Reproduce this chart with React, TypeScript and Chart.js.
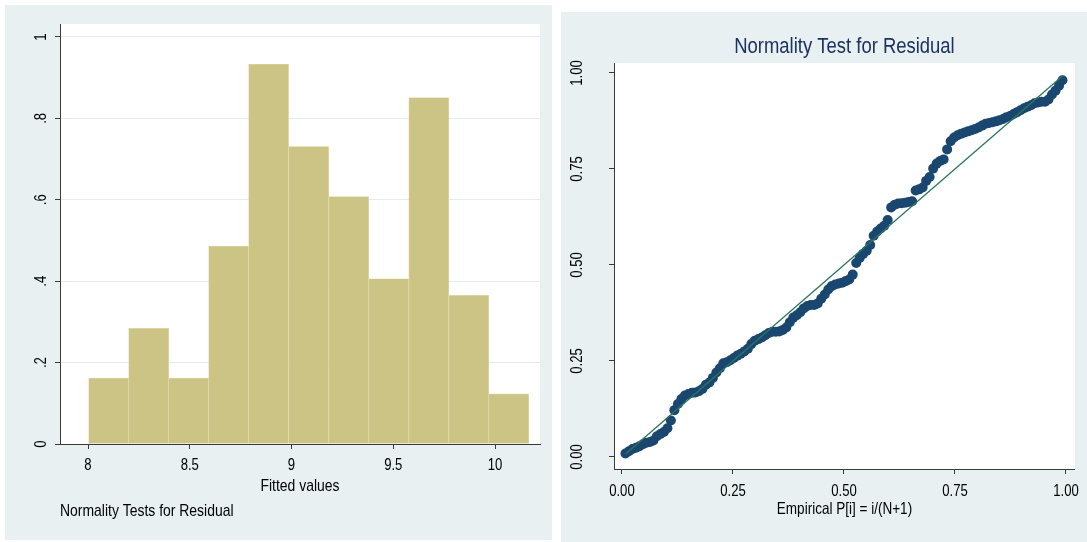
import React, { useEffect, useRef } from "react";
import { Chart, registerables } from "chart.js";

Chart.register(...registerables);

const FONT = "'Liberation Sans', Arial, sans-serif";
Chart.defaults.font.family = FONT;
const NARROW = 0.82; // Arial Narrow is ~82% of Arial width

// ---------- Histogram (left) ----------
const binEdges = [8.003, 8.2, 8.396, 8.593, 8.789, 8.986, 9.183, 9.379, 9.576, 9.773, 9.969, 10.166];
const density = [0.162, 0.284, 0.162, 0.486, 0.933, 0.731, 0.608, 0.406, 0.851, 0.365, 0.123];
const histXTicks = [8, 8.5, 9, 9.5, 10];
const histXTickLabels = ["8", "8.5", "9", "9.5", "10"];
const histYTicks = [0, 0.2, 0.4, 0.6, 0.8, 1];
const histYTickLabels = ["0", ".2", ".4", ".6", ".8", "1"];

// ---------- Normal probability plot (right) ----------
const empiricalP = [
  0.0079, 0.0157, 0.0236, 0.0315, 0.0394, 0.0472, 0.0551, 0.063, 0.0709, 0.0787,
  0.0866, 0.0945, 0.1024, 0.1102, 0.1181, 0.126, 0.1339, 0.1417, 0.1496, 0.1575,
  0.1654, 0.1732, 0.1811, 0.189, 0.1969, 0.2047, 0.2126, 0.2205, 0.2283, 0.2362,
  0.2441, 0.252, 0.2598, 0.2677, 0.2756, 0.2835, 0.2913, 0.2992, 0.3071, 0.315,
  0.3228, 0.3307, 0.3386, 0.3465, 0.3543, 0.3622, 0.3701, 0.378, 0.3858, 0.3937,
  0.4016, 0.4094, 0.4173, 0.4252, 0.4331, 0.4409, 0.4488, 0.4567, 0.4646, 0.4724,
  0.4803, 0.4882, 0.4961, 0.5039, 0.5118, 0.5197, 0.5276, 0.5354, 0.5433, 0.5512,
  0.5591, 0.5669, 0.5748, 0.5827, 0.5906, 0.5984, 0.6063, 0.6142, 0.622, 0.6299,
  0.6378, 0.6457, 0.6535, 0.6614, 0.6693, 0.6772, 0.685, 0.6929, 0.7008, 0.7087,
  0.7165, 0.7244, 0.7323, 0.7402, 0.748, 0.7559, 0.7638, 0.7717, 0.7795, 0.7874,
  0.7953, 0.8031, 0.811, 0.8189, 0.8268, 0.8346, 0.8425, 0.8504, 0.8583, 0.8661,
  0.874, 0.8819, 0.8898, 0.8976, 0.9055, 0.9134, 0.9213, 0.9291, 0.937, 0.9449,
  0.9528, 0.9606, 0.9685, 0.9764, 0.9843, 0.9921,
];
const normalP = [
  0.009, 0.015, 0.021, 0.024, 0.028, 0.033, 0.037, 0.039, 0.043, 0.054,
  0.06, 0.065, 0.075, 0.095, 0.122, 0.138, 0.151, 0.16, 0.164, 0.167,
  0.168, 0.171, 0.177, 0.188, 0.194, 0.206, 0.22, 0.231, 0.244, 0.247,
  0.252, 0.258, 0.264, 0.269, 0.275, 0.282, 0.294, 0.303, 0.307, 0.311,
  0.317, 0.323, 0.326, 0.326, 0.327, 0.331, 0.337, 0.351, 0.363, 0.369,
  0.377, 0.387, 0.393, 0.396, 0.396, 0.4, 0.412, 0.423, 0.436, 0.445,
  0.449, 0.452, 0.454, 0.458, 0.462, 0.475, 0.505, 0.518, 0.529, 0.537,
  0.552, 0.576, 0.587, 0.595, 0.602, 0.617, 0.65, 0.657, 0.66, 0.661,
  0.662, 0.664, 0.666, 0.694, 0.697, 0.702, 0.719, 0.729, 0.751, 0.764,
  0.771, 0.775, 0.801, 0.822, 0.832, 0.838, 0.842, 0.845, 0.848, 0.851,
  0.854, 0.858, 0.863, 0.868, 0.87, 0.872, 0.874, 0.877, 0.88, 0.885,
  0.888, 0.893, 0.898, 0.903, 0.908, 0.912, 0.916, 0.921, 0.923, 0.925,
  0.925, 0.931, 0.944, 0.954, 0.967, 0.981,
];
const refLineX = [0.008, 0.992];
const refLineY = [0.008, 0.992];
const pTicks = [0, 0.25, 0.5, 0.75, 1];
const pTickLabels = ["0.00", "0.25", "0.50", "0.75", "1.00"];

const BG = "#e8f0f2";
const AXIS = "#3a3a3a";
const GRID = "#e3ecf0";

const plotBg = {
  id: "plotBg",
  beforeDraw(chart: any) {
    const { ctx, chartArea: a } = chart;
    ctx.save();
    ctx.fillStyle = "#ffffff";
    ctx.fillRect(a.left, a.top, a.right - a.left, a.bottom - a.top);
    ctx.restore();
  },
};

// Draw text horizontally condensed (narrow face look), still as real canvas text.
function condenseText(canvas: HTMLCanvasElement, k: number) {
  const ctx: any = canvas.getContext("2d");
  if (!ctx || ctx.__condensed) return;
  ctx.__condensed = true;
  const fill = ctx.fillText.bind(ctx);
  const measure = ctx.measureText.bind(ctx);
  ctx.fillText = (text: string, x: number, y: number, maxWidth?: number) => {
    ctx.save();
    ctx.translate(x, y);
    ctx.scale(k, 1);
    if (maxWidth !== undefined && maxWidth !== null) fill(text, 0, 0, maxWidth / k);
    else fill(text, 0, 0);
    ctx.restore();
  };
  ctx.measureText = (text: string) => {
    const m = measure(text);
    return {
      width: m.width * k,
      actualBoundingBoxAscent: m.actualBoundingBoxAscent,
      actualBoundingBoxDescent: m.actualBoundingBoxDescent,
      actualBoundingBoxLeft: m.actualBoundingBoxLeft * k,
      actualBoundingBoxRight: m.actualBoundingBoxRight * k,
      fontBoundingBoxAscent: m.fontBoundingBoxAscent,
      fontBoundingBoxDescent: m.fontBoundingBoxDescent,
    };
  };
}

function labelFor(values: number[], labels: string[]) {
  return (v: any) => {
    const i = values.indexOf(Number(v));
    return i >= 0 ? labels[i] : "";
  };
}

function HistChart() {
  const ref = useRef<HTMLCanvasElement>(null);
  useEffect(() => {
    if (!ref.current) return;
    condenseText(ref.current, NARROW);
    const bars = density.map((d, i) => ({ x: (binEdges[i] + binEdges[i + 1]) / 2, y: d }));
    const chart = new Chart(ref.current, {
      type: "bar",
      data: {
        datasets: [
          {
            data: bars as any,
            backgroundColor: "#ccc485",
            borderColor: "#e0dab0",
            borderWidth: 0.7,
            borderSkipped: "bottom",
            barPercentage: 1,
            categoryPercentage: 1,
          },
        ],
      },
      options: {
        animation: false,
        responsive: false,
        devicePixelRatio: 1,
        layout: { padding: { left: 0, top: 19, right: 12, bottom: 18.6 } },
        plugins: {
          legend: { display: false },
          tooltip: { enabled: false },
          title: {
            display: true,
            text: "Normality Tests for Residual",
            position: "bottom",
            align: "start",
            fullSize: false,
            color: "#000",
            font: { family: FONT, size: 17, weight: "normal" },
            padding: { top: 4, bottom: 0 },
          },
        },
        scales: {
          x: {
            type: "linear",
            min: 7.8624,
            max: 10.221,
            offset: false,
            afterBuildTicks: (s: any) => {
              s.ticks = histXTicks.map((v) => ({ value: v }));
            },
            afterFit: (s: any) => {
              s.height = 53;
            },
            ticks: {
              callback: labelFor(histXTicks, histXTickLabels),
              color: "#000",
              font: { family: FONT, size: 16 },
              padding: 7,
              autoSkip: false,
              maxRotation: 0,
              minRotation: 0,
            },
            grid: {
              offset: false,
              drawOnChartArea: false,
              drawTicks: true,
              tickLength: 5,
              tickColor: AXIS,
              tickWidth: 1,
            },
            border: { display: true, color: AXIS, width: 1 },
            title: {
              display: true,
              text: "Fitted values",
              color: "#000",
              font: { family: FONT, size: 17 },
              padding: { top: 0, bottom: 0 },
            },
          },
          y: {
            type: "linear",
            min: 0,
            max: 1.0319,
            afterBuildTicks: (s: any) => {
              s.ticks = histYTicks.map((v) => ({ value: v }));
            },
            afterFit: (s: any) => {
              s.width = 55;
            },
            ticks: {
              callback: labelFor(histYTicks, histYTickLabels),
              color: "#000",
              font: { family: FONT, size: 16 },
              padding: 8,
              autoSkip: false,
              minRotation: 90,
              maxRotation: 90,
              crossAlign: "center",
            },
            grid: { drawOnChartArea: true, color: GRID, lineWidth: 1, drawTicks: true, tickLength: 5, tickColor: AXIS, tickWidth: 1 },
            border: { display: true, color: AXIS, width: 1 },
          },
        },
      } as any,
      plugins: [plotBg],
    });
    return () => chart.destroy();
  }, []);
  return <canvas ref={ref} width={547} height={535} style={{ display: "block", background: BG }} />;
}

function PnormChart() {
  const ref = useRef<HTMLCanvasElement>(null);
  useEffect(() => {
    if (!ref.current) return;
    condenseText(ref.current, NARROW);
    const points = empiricalP.map((x, i) => ({ x, y: normalP[i] }));
    const line = refLineX.map((x, i) => ({ x, y: refLineY[i] }));
    const chart = new Chart(ref.current, {
      type: "scatter",
      data: {
        datasets: [
          {
            type: "line",
            data: line,
            borderColor: "#2c755d",
            borderWidth: 1.3,
            pointRadius: 0,
            fill: false,
          } as any,
          {
            type: "scatter",
            data: points,
            backgroundColor: "#1a476f",
            borderWidth: 0,
            pointRadius: 5,
          },
        ],
      },
      options: {
        animation: false,
        responsive: false,
        devicePixelRatio: 1,
        layout: { padding: { left: 0, top: 0, right: 10, bottom: 23 } },
        plugins: {
          legend: { display: false },
          tooltip: { enabled: false },
          title: {
            display: true,
            text: "Normality Test for Residual",
            position: "top",
            align: "center",
            fullSize: false,
            color: "#1c3360",
            font: { family: FONT, size: 22.5, weight: "normal" },
            padding: { top: 21.5, bottom: 2.5 },
          },
        },
        scales: {
          x: {
            type: "linear",
            min: -0.0179,
            max: 1.0202,
            afterBuildTicks: (s: any) => {
              s.ticks = pTicks.map((v) => ({ value: v }));
            },
            afterFit: (s: any) => {
              s.height = 50;
            },
            ticks: {
              callback: labelFor(pTicks, pTickLabels),
              color: "#000",
              font: { family: FONT, size: 16 },
              padding: 8,
              autoSkip: false,
              maxRotation: 0,
              minRotation: 0,
            },
            grid: { drawOnChartArea: false, drawTicks: true, tickLength: 5, tickColor: AXIS, tickWidth: 1 },
            border: { display: true, color: AXIS, width: 1 },
            title: {
              display: true,
              text: "Empirical P[i] = i/(N+1)",
              color: "#000",
              font: { family: FONT, size: 16.5 },
              padding: { top: 0, bottom: 0 },
            },
          },
          y: {
            type: "linear",
            min: -0.03125,
            max: 1.026,
            afterBuildTicks: (s: any) => {
              s.ticks = pTicks.map((v) => ({ value: v }));
            },
            afterFit: (s: any) => {
              s.width = 53;
            },
            ticks: {
              callback: labelFor(pTicks, pTickLabels),
              color: "#000",
              font: { family: FONT, size: 16 },
              padding: 19,
              autoSkip: false,
              minRotation: 90,
              maxRotation: 90,
              crossAlign: "center",
            },
            grid: { drawOnChartArea: false, drawTicks: true, tickLength: 5, tickColor: AXIS, tickWidth: 1 },
            border: { display: true, color: AXIS, width: 1 },
          },
        },
      } as any,
      plugins: [plotBg],
    });
    return () => chart.destroy();
  }, []);
  return <canvas ref={ref} width={526} height={530} style={{ display: "block", background: BG }} />;
}

export default function App() {
  return (
    <>
      <div style={{ position: "absolute", left: 5, top: 5, width: 547, height: 535 }}>
        <HistChart />
      </div>
      <div style={{ position: "absolute", left: 561, top: 12, width: 526, height: 530 }}>
        <PnormChart />
      </div>
    </>
  );
}
